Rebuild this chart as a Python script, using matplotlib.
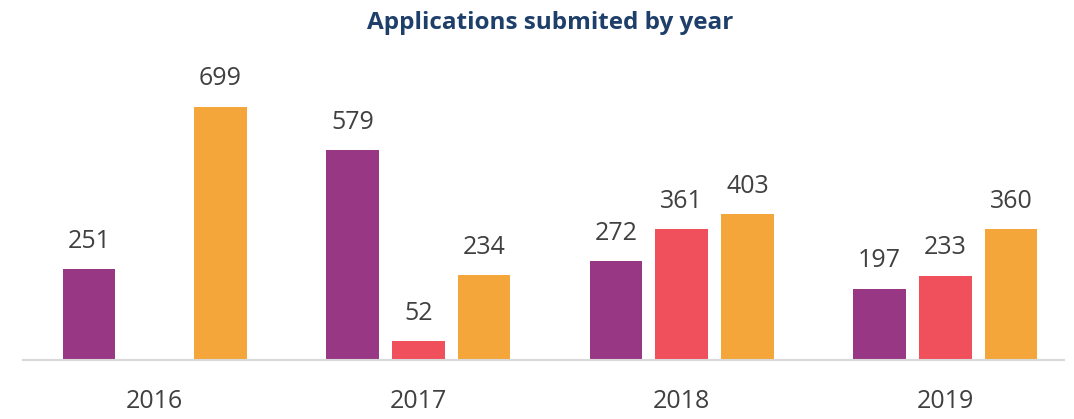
import matplotlib.pyplot as plt
import numpy as np

years = ["2016", "2017", "2018", "2019"]
series_a = [251, 579, 272, 197]
series_b = [np.nan, 52, 361, 233]
series_c = [699, 234, 403, 360]

colors = ["#983884", "#F0505C", "#F4A63B"]

plt.rcParams["font.family"] = ["Open Sans", "DejaVu Sans"]

fig = plt.figure(figsize=(10.74, 4.19), dpi=100)
ax = fig.add_axes([23 / 1074, 59 / 419, 1041 / 1074, 290 / 419])

x = np.arange(len(years))
step = 0.25
width = 0.2
for k, (vals, color) in enumerate(zip([series_a, series_b, series_c], colors)):
    xs = x + (k - 1) * step
    ax.bar(xs, vals, width=width, color=color, zorder=2)
    for xi, v in zip(xs, vals):
        if np.isnan(v):
            continue
        ax.annotate(f"{v:.0f}", (xi, v), xytext=(0, 20), textcoords="offset points",
                    ha="center", va="center", fontsize=18, color="#404040")

ax.set_xlim(-0.5, -0.5 + 1041 / 263.5)
ax.set_ylim(0, 800)
ax.set_xticks(x)
ax.set_xticklabels(years, fontsize=18, color="#404040")
ax.tick_params(axis="x", length=0, pad=21)
ax.set_yticks([])
for side in ["top", "right", "left"]:
    ax.spines[side].set_visible(False)
ax.spines["bottom"].set_color("#D9D9D9")
ax.spines["bottom"].set_linewidth(1.5)

fig.text(550 / 1074, 1 - 23 / 419, "Applications submited by year", ha="center", va="center",
         fontsize=17.5, fontweight="bold", color="#1F3F6B")

fig.savefig("out.png", dpi=100)
